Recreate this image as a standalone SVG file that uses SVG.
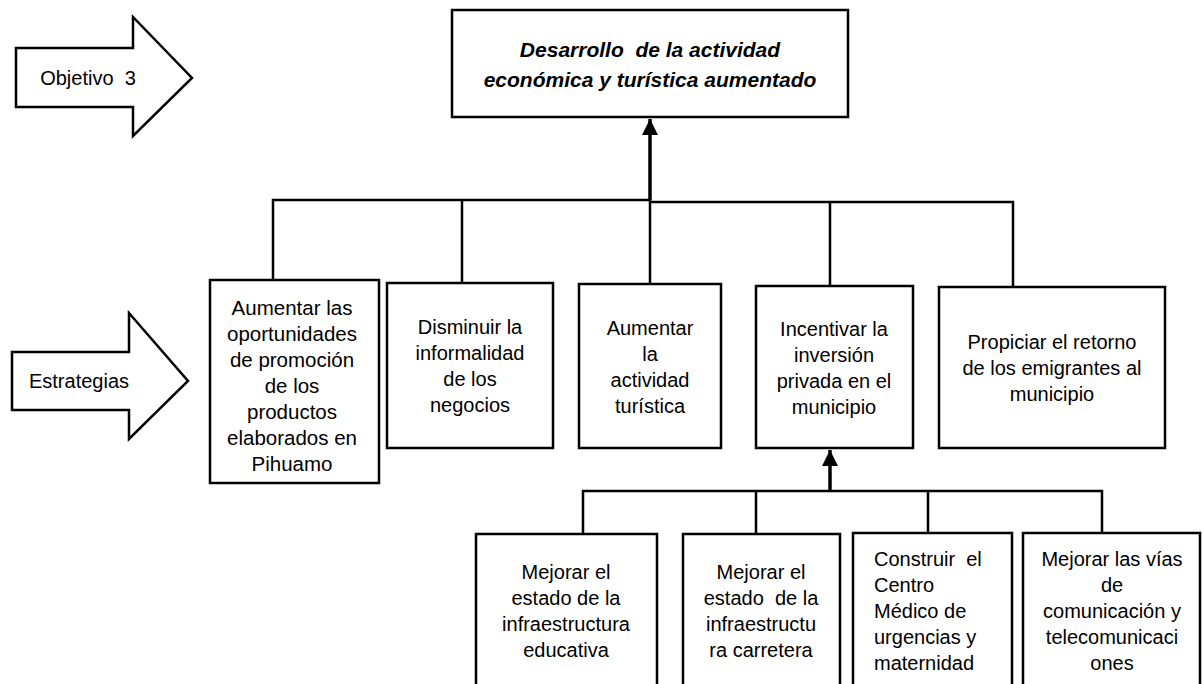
<svg xmlns="http://www.w3.org/2000/svg" width="1202" height="684" viewBox="0 0 1202 684">
<style>
text{white-space:pre}
.box{fill:#fff;stroke:#000;stroke-width:2.5}
.t{font-family:"Liberation Sans",Arial,sans-serif;font-size:20px;fill:#000;text-anchor:middle}
.b1{font-size:20.5px}
.l{text-anchor:start}
.title{font-family:"Liberation Sans",Arial,sans-serif;font-size:21px;font-weight:bold;font-style:italic;text-anchor:middle}
.c{fill:none;stroke:#000;stroke-width:2.5}
.trunk{fill:none;stroke:#000;stroke-width:3.5}
</style>
<defs>
<marker id="ah" markerWidth="16" markerHeight="16" viewBox="0 0 16 16" refX="16" refY="8" orient="auto" markerUnits="userSpaceOnUse">
<path d="M0,0 L16,8 L0,16 Z" fill="#000"/>
</marker>
</defs>
<rect width="1202" height="684" fill="#fff"/>

<g id="arrow-objetivo">
<path class="box" d="M16,48 H133 V17 L192,78 L133,136 V107 H16 Z"/>
<text class="t" x="88" y="85">Objetivo  3</text>
</g>
<g id="arrow-estrategias">
<path class="box" d="M12,352 H129 V313 L188,381 L129,439 V410 H12 Z"/>
<text class="t" x="79" y="388">Estrategias</text>
</g>

<g id="connectors">
<path class="trunk" d="M650,200 V119" marker-end="url(#ah)"/>
<path class="c" d="M273,280 V200 H650"/>
<path class="c" d="M650,202 H1013 V287"/>
<path class="c" d="M462,200 V283"/>
<path class="c" d="M650,200 V284"/>
<path class="c" d="M830,202 V286"/>
<path class="trunk" d="M830,491 V450" marker-end="url(#ah)"/>
<path class="c" d="M583,534 V491 H1102 V534"/>
<path class="c" d="M756,491 V534"/>
<path class="c" d="M928,491 V534"/>
</g>

<g id="goal">
<rect class="box" x="452" y="10" width="396" height="107"/>
<text class="title" x="650" y="57">Desarrollo  de la actividad</text>
<text class="title" x="650" y="87">económica y turística aumentado</text>
</g>

<g id="s1">
<rect class="box" x="210" y="280" width="169" height="203"/>
<text class="t b1" x="292" y="315">Aumentar las</text>
<text class="t b1" x="292" y="341">oportunidades</text>
<text class="t b1" x="292" y="367">de promoción</text>
<text class="t b1" x="292" y="393">de los</text>
<text class="t b1" x="292" y="419">productos</text>
<text class="t b1" x="292" y="445">elaborados en</text>
<text class="t b1" x="292" y="471">Pihuamo</text>
</g>
<g id="s2">
<rect class="box" x="387" y="283" width="166" height="165"/>
<text class="t" x="470" y="334">Disminuir la</text>
<text class="t" x="470" y="360">informalidad</text>
<text class="t" x="470" y="386">de los</text>
<text class="t" x="470" y="412">negocios</text>
</g>
<g id="s3">
<rect class="box" x="579" y="284" width="142" height="164"/>
<text class="t" x="650" y="335">Aumentar</text>
<text class="t" x="650" y="361">la</text>
<text class="t" x="650" y="387">actividad</text>
<text class="t" x="650" y="413">turística</text>
</g>
<g id="s4">
<rect class="box" x="756" y="286" width="157" height="162"/>
<text class="t" x="834" y="336">Incentivar la</text>
<text class="t" x="834" y="362">inversión</text>
<text class="t" x="834" y="388">privada en el</text>
<text class="t" x="834" y="414">municipio</text>
</g>
<g id="s5">
<rect class="box" x="939" y="287" width="226" height="161"/>
<text class="t" x="1052" y="349">Propiciar el retorno</text>
<text class="t" x="1052" y="375">de los emigrantes al</text>
<text class="t" x="1052" y="401">municipio</text>
</g>

<g id="a1">
<rect class="box" x="476" y="534" width="181" height="170"/>
<text class="t" x="566" y="579">Mejorar el</text>
<text class="t" x="566" y="605">estado de la</text>
<text class="t" x="566" y="631">infraestructura</text>
<text class="t" x="566" y="657">educativa</text>
</g>
<g id="a2">
<rect class="box" x="683" y="534" width="157" height="170"/>
<text class="t" x="761" y="579">Mejorar el</text>
<text class="t" x="761" y="605">estado  de la</text>
<text class="t" x="761" y="631">infraestructu</text>
<text class="t" x="761" y="657">ra carretera</text>
</g>
<g id="a3">
<rect class="box" x="853" y="533" width="159" height="171"/>
<text class="t l" x="874" y="566">Construir  el</text>
<text class="t l" x="874" y="592">Centro</text>
<text class="t l" x="874" y="618">Médico de</text>
<text class="t l" x="874" y="644">urgencias y</text>
<text class="t l" x="874" y="670">maternidad</text>
</g>
<g id="a4">
<rect class="box" x="1023" y="533" width="177" height="171"/>
<text class="t" x="1112" y="566">Mejorar las vías</text>
<text class="t" x="1112" y="592">de</text>
<text class="t" x="1112" y="618">comunicación y</text>
<text class="t" x="1112" y="644">telecomunicaci</text>
<text class="t" x="1112" y="670">ones</text>
</g>
</svg>
